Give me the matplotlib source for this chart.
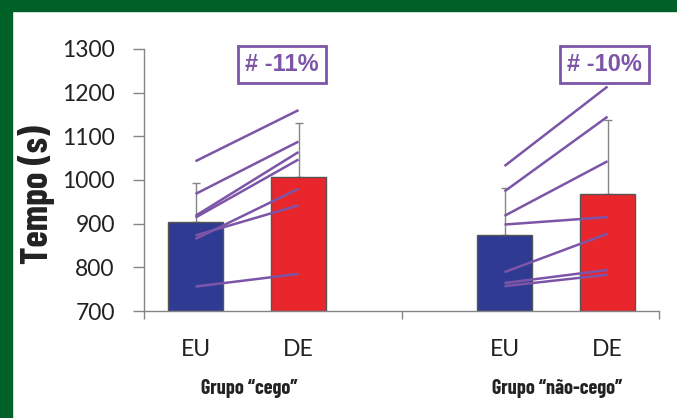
import numpy as np
import matplotlib.pyplot as plt
from matplotlib.patches import Rectangle

# group means and upper SD (seconds)
groups = ['Grupo \u201ccego\u201d', 'Grupo \u201cn\u00e3o-cego\u201d']
conditions = ['EU', 'DE']
eu_mean = [904, 875]
de_mean = [1008, 967]
eu_sd = [89, 107]
de_sd = [122, 171]
changes = ['# -11%', '# -10%']

# individual subjects, EU -> DE
cego_eu = [1043, 968, 918, 914, 873, 865, 756]
cego_de = [1160, 1088, 1064, 1047, 942, 980, 785]
nao_eu = [1032, 974, 918, 898, 789, 764, 757]
nao_de = [1214, 1145, 1043, 915, 877, 794, 783]

green = '#006128'
blue = '#2f3b93'
red = '#e8262c'
purple = '#7d55a8'
gray = '#858585'
cond_font = ['Lato', 'DejaVu Sans']
narrow = ['Barlow Condensed', 'DejaVu Sans']

fig = plt.figure(figsize=(6.77, 4.18), dpi=100)
fig.patch.set_facecolor('white')
# green frame on top and left
fig.add_artist(Rectangle((0, 1 - 11 / 418), 1, 11 / 418, transform=fig.transFigure,
                         color=green, zorder=0))
fig.add_artist(Rectangle((0, 0), 12 / 677, 1, transform=fig.transFigure,
                         color=green, zorder=0))

ax = fig.add_axes([144 / 677, 107 / 418, 515 / 677, 262 / 418])

eu_x = np.array([0.5, 3.5])
de_x = np.array([1.5, 4.5])
w = 0.53

ax.bar(eu_x, np.array(eu_mean) - 700, w, bottom=700, color=blue, edgecolor='#555555',
       linewidth=1, zorder=2)
ax.bar(de_x, np.array(de_mean) - 700, w, bottom=700, color=red, edgecolor='#555555',
       linewidth=1, zorder=2)
ax.errorbar(eu_x, eu_mean, yerr=[np.zeros(2), eu_sd], fmt='none', ecolor=gray,
            elinewidth=1, capsize=3, capthick=1, zorder=1)
ax.errorbar(de_x, de_mean, yerr=[np.zeros(2), de_sd], fmt='none', ecolor=gray,
            elinewidth=1, capsize=3, capthick=1, zorder=1)

for i, (pre, post) in enumerate([(cego_eu, cego_de), (nao_eu, nao_de)]):
    for a, b in zip(pre, post):
        ax.plot([eu_x[i], de_x[i]], [a, b], color=purple, lw=1.8, zorder=3,
                solid_capstyle='butt')

box_x = [1.34, 4.47]
for x, t in zip(box_x, changes):
    ax.text(x, 1265, t, ha='center', va='center', fontsize=17, fontweight='bold',
            color=purple, family=['Liberation Sans', 'DejaVu Sans'], clip_on=False,
            bbox=dict(boxstyle='square,pad=0.3', fc='white', ec=purple, lw=2))

ax.set_xlim(0, 5)
ax.set_ylim(700, 1300)
ax.set_yticks(np.arange(700, 1301, 100))
ax.tick_params(axis='y', direction='out', length=8, width=1, color=gray, pad=13,
               labelsize=16.5, labelcolor='#222222')
for lab in ax.get_yticklabels():
    lab.set_family(cond_font)
ax.set_xticks([0, 2.5, 5])
ax.set_xticklabels([])
ax.set_xticks(list(eu_x) + list(de_x), minor=True)
ax.set_xticklabels(['EU', 'EU', 'DE', 'DE'], minor=True, fontsize=16.5, color='#222222',
                   family=cond_font)
ax.tick_params(axis='x', which='major', direction='out', length=6, width=1, color=gray)
ax.tick_params(axis='x', which='minor', length=0, pad=20)
for s in ['top', 'right']:
    ax.spines[s].set_visible(False)
for s in ['left', 'bottom']:
    ax.spines[s].set_color(gray)
    ax.spines[s].set_linewidth(1)

ax.set_ylabel('Tempo (s)', fontsize=27, fontweight='bold', family=narrow,
              color='#222222')
ax.yaxis.set_label_coords(-0.172, 0.443)

for x, g in zip([249, 557], groups):
    fig.text(x / 677, 29 / 418, g, ha='center', va='center', fontsize=14.5,
             fontweight='bold', family=narrow, color='#222222')

fig.savefig('out.png', dpi=100)
